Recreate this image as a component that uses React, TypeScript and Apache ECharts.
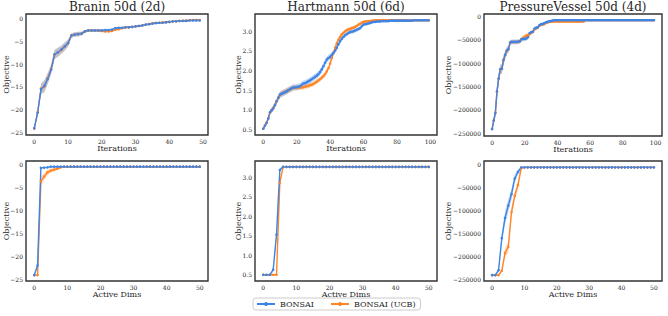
import React, { useEffect, useRef } from "react";
import * as echarts from "echarts";

// ---------------- data ----------------
const SERIES_NAMES = ["BONSAI", "BONSAI (UCB)"];
const TITLES = ["Branin 50d (2d)", "Hartmann 50d (6d)", "PressureVessel 50d (4d)"];
const X_NAMES = ["Iterations", "Active Dims"];
const Y_NAME = "Objective";

// Top row: objective vs iterations
const braninIterBlue = [
  -24.1, -20.7, -15.5, -14.8, -13.2, -11.2, -7.85, -7.4, -6.8, -6.1,
  -5.4, -3.7, -3.5, -3.4, -3.3, -2.8, -2.6, -2.6, -2.6, -2.6,
  -2.6, -2.5, -2.5, -2.4, -2.1, -2.0, -2.0, -1.9, -1.9, -1.8,
  -1.7, -1.6, -1.5, -1.3, -1.2, -1.1, -1.0, -0.9, -0.9, -0.8,
  -0.7, -0.6, -0.6, -0.5, -0.5, -0.5, -0.4, -0.4, -0.4, -0.4,
];
const braninIterBlueStd = [
  0.2, 0.4, 1.2, 1.3, 1.2, 1.1, 1.0, 1.0, 0.9, 0.9,
  0.8, 0.5, 0.5, 0.5, 0.4, 0.3, 0.25, 0.25, 0.25, 0.25,
  0.25, 0.25, 0.25, 0.25, 0.2, 0.2, 0.2, 0.18, 0.18, 0.18,
  0.18, 0.18, 0.18, 0.18, 0.18, 0.15, 0.15, 0.15, 0.15, 0.15,
  0.12, 0.12, 0.12, 0.12, 0.12, 0.12, 0.12, 0.12, 0.12, 0.12,
];
const braninIterOrange = [
  -24.2, -20.6, -15.4, -14.9, -13.1, -11.1, -7.9, -7.4, -6.9, -6.2,
  -5.4, -3.7, -3.5, -3.4, -3.3, -2.8, -2.6, -2.6, -2.6, -2.6,
  -2.7, -2.8, -2.8, -2.7, -2.4, -2.3, -2.1, -1.9, -1.9, -1.8,
  -1.7, -1.6, -1.5, -1.3, -1.2, -1.0, -0.9, -0.9, -0.8, -0.8,
  -0.7, -0.6, -0.55, -0.5, -0.45, -0.4, -0.35, -0.3, -0.3, -0.3,
];
const braninIterOrangeStd = [
  0.2, 0.4, 1.2, 1.3, 1.2, 1.1, 1.0, 1.0, 0.9, 0.9,
  0.8, 0.5, 0.5, 0.5, 0.4, 0.3, 0.25, 0.25, 0.25, 0.25,
  0.3, 0.3, 0.3, 0.3, 0.3, 0.25, 0.2, 0.18, 0.18, 0.18,
  0.18, 0.18, 0.18, 0.18, 0.18, 0.15, 0.15, 0.15, 0.15, 0.15,
  0.12, 0.12, 0.12, 0.12, 0.12, 0.12, 0.12, 0.12, 0.12, 0.12,
];

const hartIterBlue = [
  0.52, 0.6, 0.67, 0.78, 0.94, 0.99, 1.04, 1.12, 1.22, 1.31,
  1.39, 1.41, 1.43, 1.45, 1.47, 1.5, 1.53, 1.55, 1.57, 1.57,
  1.58, 1.59, 1.6, 1.64, 1.67, 1.68, 1.7, 1.73, 1.75, 1.78,
  1.81, 1.84, 1.87, 1.91, 1.96, 2.03, 2.11, 2.2, 2.28, 2.32,
  2.35, 2.4, 2.45, 2.51, 2.58, 2.67, 2.75, 2.81, 2.86, 2.9,
  2.93, 2.96, 2.98, 2.99, 3.0, 3.02, 3.04, 3.06, 3.08, 3.13,
  3.17, 3.18, 3.19, 3.2, 3.21, 3.23, 3.24, 3.24, 3.25, 3.25,
  3.25, 3.26, 3.26, 3.26, 3.26, 3.26, 3.27, 3.27, 3.27, 3.27,
  3.27, 3.27, 3.27, 3.27, 3.27, 3.27, 3.27, 3.27, 3.27, 3.27,
  3.28, 3.28, 3.28, 3.28, 3.28, 3.28, 3.28, 3.28, 3.28, 3.28,
];
const hartIterBlueStd = [
  0.02, 0.04, 0.04, 0.05, 0.06, 0.07, 0.07, 0.07, 0.07, 0.08,
  0.08, 0.08, 0.08, 0.08, 0.08, 0.08, 0.08, 0.08, 0.08, 0.08,
  0.08, 0.08, 0.08, 0.08, 0.08, 0.08, 0.08, 0.08, 0.08, 0.08,
  0.08, 0.08, 0.08, 0.08, 0.08, 0.08, 0.08, 0.08, 0.08, 0.08,
  0.08, 0.08, 0.07, 0.07, 0.07, 0.06, 0.06, 0.06, 0.06, 0.06,
  0.05, 0.05, 0.05, 0.05, 0.05, 0.05, 0.05, 0.05, 0.05, 0.04,
  0.04, 0.04, 0.04, 0.03, 0.03, 0.03, 0.03, 0.02, 0.02, 0.02,
  0.02, 0.02, 0.02, 0.02, 0.02, 0.02, 0.02, 0.02, 0.02, 0.02,
  0.02, 0.02, 0.02, 0.02, 0.02, 0.02, 0.02, 0.02, 0.02, 0.02,
  0.02, 0.02, 0.02, 0.02, 0.02, 0.02, 0.02, 0.02, 0.02, 0.02,
];
const hartIterOrange = [
  0.52, 0.61, 0.68, 0.79, 0.93, 0.99, 1.05, 1.13, 1.22, 1.3,
  1.38, 1.41, 1.43, 1.46, 1.48, 1.5, 1.52, 1.54, 1.56, 1.57,
  1.57, 1.57, 1.57, 1.57, 1.58, 1.59, 1.6, 1.61, 1.63, 1.64,
  1.66, 1.69, 1.72, 1.75, 1.78, 1.82, 1.86, 1.91, 1.98, 2.06,
  2.18, 2.32, 2.45, 2.58, 2.7, 2.79, 2.86, 2.92, 2.96, 3.0,
  3.03, 3.05, 3.06, 3.08, 3.09, 3.11, 3.14, 3.17, 3.19, 3.22,
  3.24, 3.25, 3.25, 3.26, 3.26, 3.27, 3.27, 3.28, 3.28, 3.28,
  3.28, 3.28, 3.28, 3.28, 3.28, 3.28, 3.28, 3.28, 3.28, 3.28,
  3.28, 3.28, 3.28, 3.28, 3.28, 3.28, 3.28, 3.28, 3.28, 3.28,
  3.28, 3.28, 3.28, 3.28, 3.28, 3.28, 3.28, 3.28, 3.28, 3.28,
];
const hartIterOrangeStd = [
  0.02, 0.04, 0.04, 0.05, 0.06, 0.07, 0.07, 0.07, 0.07, 0.08,
  0.08, 0.08, 0.08, 0.08, 0.08, 0.08, 0.08, 0.08, 0.07, 0.07,
  0.07, 0.07, 0.06, 0.06, 0.06, 0.06, 0.06, 0.06, 0.06, 0.06,
  0.06, 0.06, 0.06, 0.06, 0.06, 0.06, 0.06, 0.06, 0.06, 0.06,
  0.06, 0.06, 0.06, 0.06, 0.06, 0.06, 0.05, 0.05, 0.05, 0.05,
  0.05, 0.05, 0.05, 0.05, 0.05, 0.04, 0.04, 0.04, 0.04, 0.04,
  0.03, 0.03, 0.03, 0.03, 0.02, 0.02, 0.02, 0.02, 0.02, 0.02,
  0.02, 0.02, 0.02, 0.02, 0.02, 0.02, 0.02, 0.02, 0.02, 0.02,
  0.02, 0.02, 0.02, 0.02, 0.02, 0.02, 0.02, 0.02, 0.02, 0.02,
  0.02, 0.02, 0.02, 0.02, 0.02, 0.02, 0.02, 0.02, 0.02, 0.02,
];

const pvIterBlue = [
  -241400, -222900, -207000, -160700, -132900, -113000, -112000, -92900, -82100, -72900,
  -70000, -55700, -54300, -54300, -54300, -54300, -54000, -52900, -48600, -47900,
  -47900, -47000, -44300, -35700, -33600, -32100, -25700, -24300, -22900, -18600,
  -16400, -15700, -14300, -12100, -11400, -10000, -9300, -8600, -7900, -7900,
  -7900, -7900, -7900, -7900, -7900, -7900, -7900, -7900, -7900, -7900,
  -7900, -7900, -7900, -7900, -7900, -7900, -7900, -7900, -7900, -7900,
  -7900, -7900, -7900, -7900, -7900, -7900, -7900, -7900, -7900, -7900,
  -7900, -7900, -7900, -7900, -7900, -7900, -7900, -7900, -7900, -7900,
  -7900, -7900, -7900, -7900, -7900, -7900, -7900, -7900, -7900, -7900,
  -7900, -7900, -7900, -7900, -7900, -7900, -7900, -7900, -7900, -7900,
];
const pvIterBlueStd = [
  3000, 6000, 9000, 11000, 11000, 10000, 10000, 10000, 9000, 8000,
  7000, 5000, 5000, 5000, 5000, 5000, 5000, 5000, 5000, 5000,
  5000, 5000, 5000, 4000, 4000, 4000, 4000, 4000, 3500, 3500,
  3500, 3000, 3000, 3000, 3000, 2000, 2000, 1500, 1500, 1500,
  1500, 1500, 1500, 1500, 1500, 1500, 1500, 1500, 1500, 1500,
  1200, 1200, 1200, 1200, 1200, 1200, 1200, 1200, 1200, 1200,
  1200, 1200, 1200, 1200, 1200, 1200, 1200, 1200, 1200, 1200,
  1200, 1200, 1200, 1200, 1200, 1200, 1200, 1200, 1200, 1200,
  1200, 1200, 1200, 1200, 1200, 1200, 1200, 1200, 1200, 1200,
  1200, 1200, 1200, 1200, 1200, 1200, 1200, 1200, 1200, 1200,
];
const pvIterOrange = [
  -241400, -223500, -206000, -161500, -133500, -114000, -112500, -93500, -82500, -73500,
  -70500, -56000, -54500, -54500, -54500, -54500, -54000, -53000, -49000, -46000,
  -43000, -41000, -40000, -37000, -34500, -33000, -27000, -25000, -23500, -19500,
  -17500, -17000, -16000, -13500, -12500, -11500, -11000, -10700, -10700, -10700,
  -10700, -10700, -10700, -10700, -10700, -10700, -10700, -10700, -10700, -10700,
  -10700, -10700, -10700, -10700, -10700, -10700, -10700, -7900, -7900, -7900,
  -7900, -7900, -7900, -7900, -7900, -7900, -7900, -7900, -7900, -7900,
  -7900, -7900, -7900, -7900, -7900, -7900, -7900, -7900, -7900, -7900,
  -7900, -7900, -7900, -7900, -7900, -7900, -7900, -7900, -7900, -7900,
  -7900, -7900, -7900, -7900, -7900, -7900, -7900, -7900, -7900, -7900,
];
const pvIterOrangeStd = [
  3000, 6000, 9000, 11000, 11000, 10000, 10000, 10000, 9000, 8000,
  7000, 5000, 5000, 5000, 5000, 5000, 5000, 5000, 5000, 5000,
  5000, 5000, 5000, 4000, 4000, 4000, 4000, 4000, 3500, 3500,
  3500, 3000, 3000, 2500, 2500, 2000, 1500, 1500, 1500, 1500,
  1500, 1500, 1500, 1500, 1500, 1500, 1500, 1500, 1500, 1500,
  1200, 1200, 1200, 1200, 1200, 1200, 1200, 1200, 1200, 1200,
  1200, 1200, 1200, 1200, 1200, 1200, 1200, 1200, 1200, 1200,
  1200, 1200, 1200, 1200, 1200, 1200, 1200, 1200, 1200, 1200,
  1200, 1200, 1200, 1200, 1200, 1200, 1200, 1200, 1200, 1200,
  1200, 1200, 1200, 1200, 1200, 1200, 1200, 1200, 1200, 1200,
];

// Bottom row: objective vs active dims (0..50)
const braninDimBlue = [
  -24.1, -22.0, -0.7, -0.65, -0.6, -0.45, -0.45, -0.45, -0.45, -0.45,
  -0.45, -0.45, -0.45, -0.45, -0.45, -0.45, -0.45, -0.45, -0.45, -0.45,
  -0.45, -0.45, -0.45, -0.45, -0.45, -0.45, -0.45, -0.45, -0.45, -0.45,
  -0.45, -0.45, -0.45, -0.45, -0.45, -0.45, -0.45, -0.45, -0.45, -0.45,
  -0.45, -0.45, -0.45, -0.45, -0.45, -0.45, -0.45, -0.45, -0.45, -0.45,
  -0.45,
];
const braninDimBlueStd = [
  0.1, 0.3, 0.2, 0.15, 0.1, 0.05, 0.05, 0.05, 0.05, 0.05,
  0.05, 0.05, 0.05, 0.05, 0.05, 0.05, 0.05, 0.05, 0.05, 0.05,
  0.05, 0.05, 0.05, 0.05, 0.05, 0.05, 0.05, 0.05, 0.05, 0.05,
  0.05, 0.05, 0.05, 0.05, 0.05, 0.05, 0.05, 0.05, 0.05, 0.05,
  0.05, 0.05, 0.05, 0.05, 0.05, 0.05, 0.05, 0.05, 0.05, 0.05,
  0.05,
];
const braninDimOrange = [
  -24.1, -24.1, -3.6, -2.6, -1.7, -1.3, -1.1, -0.9, -0.6, -0.45,
  -0.45, -0.45, -0.45, -0.45, -0.45, -0.45, -0.45, -0.45, -0.45, -0.45,
  -0.45, -0.45, -0.45, -0.45, -0.45, -0.45, -0.45, -0.45, -0.45, -0.45,
  -0.45, -0.45, -0.45, -0.45, -0.45, -0.45, -0.45, -0.45, -0.45, -0.45,
  -0.45, -0.45, -0.45, -0.45, -0.45, -0.45, -0.45, -0.45, -0.45, -0.45,
  -0.45,
];
const braninDimOrangeStd = [
  0.1, 0.1, 1.0, 0.8, 0.6, 0.5, 0.4, 0.3, 0.15, 0.05,
  0.05, 0.05, 0.05, 0.05, 0.05, 0.05, 0.05, 0.05, 0.05, 0.05,
  0.05, 0.05, 0.05, 0.05, 0.05, 0.05, 0.05, 0.05, 0.05, 0.05,
  0.05, 0.05, 0.05, 0.05, 0.05, 0.05, 0.05, 0.05, 0.05, 0.05,
  0.05, 0.05, 0.05, 0.05, 0.05, 0.05, 0.05, 0.05, 0.05, 0.05,
  0.05,
];

const hartDimBlue = [
  0.5, 0.5, 0.5, 0.63, 1.53, 3.19, 3.27, 3.27, 3.27, 3.27,
  3.27, 3.27, 3.27, 3.27, 3.27, 3.27, 3.27, 3.27, 3.27, 3.27,
  3.27, 3.27, 3.27, 3.27, 3.27, 3.27, 3.27, 3.27, 3.27, 3.27,
  3.27, 3.27, 3.27, 3.27, 3.27, 3.27, 3.27, 3.27, 3.27, 3.27,
  3.27, 3.27, 3.27, 3.27, 3.27, 3.27, 3.27, 3.27, 3.27, 3.27,
  3.27,
];
const hartDimBlueStd = [
  0.01, 0.01, 0.01, 0.05, 0.1, 0.05, 0.01, 0.01, 0.01, 0.01,
  0.01, 0.01, 0.01, 0.01, 0.01, 0.01, 0.01, 0.01, 0.01, 0.01,
  0.01, 0.01, 0.01, 0.01, 0.01, 0.01, 0.01, 0.01, 0.01, 0.01,
  0.01, 0.01, 0.01, 0.01, 0.01, 0.01, 0.01, 0.01, 0.01, 0.01,
  0.01, 0.01, 0.01, 0.01, 0.01, 0.01, 0.01, 0.01, 0.01, 0.01,
  0.01,
];
const hartDimOrange = [
  0.5, 0.5, 0.5, 0.5, 0.5, 2.86, 3.27, 3.27, 3.27, 3.27,
  3.27, 3.27, 3.27, 3.27, 3.27, 3.27, 3.27, 3.27, 3.27, 3.27,
  3.27, 3.27, 3.27, 3.27, 3.27, 3.27, 3.27, 3.27, 3.27, 3.27,
  3.27, 3.27, 3.27, 3.27, 3.27, 3.27, 3.27, 3.27, 3.27, 3.27,
  3.27, 3.27, 3.27, 3.27, 3.27, 3.27, 3.27, 3.27, 3.27, 3.27,
  3.27,
];
const hartDimOrangeStd = [
  0.01, 0.01, 0.01, 0.01, 0.02, 0.1, 0.01, 0.01, 0.01, 0.01,
  0.01, 0.01, 0.01, 0.01, 0.01, 0.01, 0.01, 0.01, 0.01, 0.01,
  0.01, 0.01, 0.01, 0.01, 0.01, 0.01, 0.01, 0.01, 0.01, 0.01,
  0.01, 0.01, 0.01, 0.01, 0.01, 0.01, 0.01, 0.01, 0.01, 0.01,
  0.01, 0.01, 0.01, 0.01, 0.01, 0.01, 0.01, 0.01, 0.01, 0.01,
  0.01,
];

const pvDimBlue = [
  -241400, -241400, -230700, -160700, -116400, -89300, -64300, -30000, -15700, -5700,
  -5700, -5700, -5700, -5700, -5700, -5700, -5700, -5700, -5700, -5700,
  -5700, -5700, -5700, -5700, -5700, -5700, -5700, -5700, -5700, -5700,
  -5700, -5700, -5700, -5700, -5700, -5700, -5700, -5700, -5700, -5700,
  -5700, -5700, -5700, -5700, -5700, -5700, -5700, -5700, -5700, -5700,
  -5700,
];
const pvDimBlueStd = [
  1000, 1000, 4000, 10000, 15000, 15000, 12000, 10000, 6000, 2000,
  500, 500, 500, 500, 500, 500, 500, 500, 500, 500,
  500, 500, 500, 500, 500, 500, 500, 500, 500, 500,
  500, 500, 500, 500, 500, 500, 500, 500, 500, 500,
  500, 500, 500, 500, 500, 500, 500, 500, 500, 500,
  500,
];
const pvDimOrange = [
  -241400, -241400, -241400, -232000, -192900, -180000, -103600, -67900, -44300, -7100,
  -5700, -5700, -5700, -5700, -5700, -5700, -5700, -5700, -5700, -5700,
  -5700, -5700, -5700, -5700, -5700, -5700, -5700, -5700, -5700, -5700,
  -5700, -5700, -5700, -5700, -5700, -5700, -5700, -5700, -5700, -5700,
  -5700, -5700, -5700, -5700, -5700, -5700, -5700, -5700, -5700, -5700,
  -5700,
];
const pvDimOrangeStd = [
  1000, 1000, 1000, 4000, 10000, 12000, 12000, 10000, 8000, 3000,
  500, 500, 500, 500, 500, 500, 500, 500, 500, 500,
  500, 500, 500, 500, 500, 500, 500, 500, 500, 500,
  500, 500, 500, 500, 500, 500, 500, 500, 500, 500,
  500, 500, 500, 500, 500, 500, 500, 500, 500, 500,
  500,
];

// ---------------- layout / style ----------------
const FONT = "DejaVu Serif";
const TEXT = "#262626";
const BLUE = "#3d84e6";
const ORANGE = "#ff8526";

type PanelData = {
  blue: number[]; blueStd: number[]; orange: number[]; orangeStd: number[];
  title?: string; xName: string; decimals: number;
};

const PANELS: PanelData[] = [
  { blue: braninIterBlue, blueStd: braninIterBlueStd, orange: braninIterOrange, orangeStd: braninIterOrangeStd, title: TITLES[0], xName: X_NAMES[0], decimals: 0 },
  { blue: hartIterBlue, blueStd: hartIterBlueStd, orange: hartIterOrange, orangeStd: hartIterOrangeStd, title: TITLES[1], xName: X_NAMES[0], decimals: 1 },
  { blue: pvIterBlue, blueStd: pvIterBlueStd, orange: pvIterOrange, orangeStd: pvIterOrangeStd, title: TITLES[2], xName: X_NAMES[0], decimals: 0 },
  { blue: braninDimBlue, blueStd: braninDimBlueStd, orange: braninDimOrange, orangeStd: braninDimOrangeStd, xName: X_NAMES[1], decimals: 0 },
  { blue: hartDimBlue, blueStd: hartDimBlueStd, orange: hartDimOrange, orangeStd: hartDimOrangeStd, xName: X_NAMES[1], decimals: 1 },
  { blue: pvDimBlue, blueStd: pvDimBlueStd, orange: pvDimOrange, orangeStd: pvDimOrangeStd, xName: X_NAMES[1], decimals: 0 },
];

const LAYOUT = [
  { left: 26, top: 14, width: 182, height: 121, yGap: 16 },
  { left: 255, top: 14, width: 182, height: 121, yGap: 13 },
  { left: 484, top: 14, width: 178, height: 122, yGap: 32 },
  { left: 26, top: 161, width: 182, height: 120, yGap: 16 },
  { left: 255, top: 161, width: 182, height: 120, yGap: 13 },
  { left: 484, top: 161, width: 178, height: 120, yGap: 32 },
];

function fmt(v: number, decimals: number): string {
  const s = Math.abs(v).toFixed(decimals);
  if (Number(s) === 0) return (0).toFixed(decimals);
  return v < 0 ? "\u2212" + s : s;
}

function buildOption() {
  const grid: any[] = [];
  const xAxis: any[] = [];
  const yAxis: any[] = [];
  const series: any[] = [];
  const title: any[] = [];

  PANELS.forEach((p, i) => {
    const L = LAYOUT[i];
    const n = p.blue.length;
    const xs = p.blue.map((_, k) => k);
    const lows: number[] = [];
    const highs: number[] = [];
    p.blue.forEach((v, k) => { lows.push(v - p.blueStd[k]); highs.push(v + p.blueStd[k]); });
    p.orange.forEach((v, k) => { lows.push(v - p.orangeStd[k]); highs.push(v + p.orangeStd[k]); });
    const lo = Math.min(...lows);
    const hi = Math.max(...highs);
    const span = hi - lo;

    grid.push({
      left: L.left, top: L.top, width: L.width, height: L.height,
      show: true, borderColor: "#333", borderWidth: 1.4, backgroundColor: "#fff",
      containLabel: false, outerBoundsMode: "none",
    });
    const labelCommon = {
      fontFamily: FONT, fontSize: 6, color: TEXT,
      showMinLabel: false, showMaxLabel: false,
    };
    xAxis.push({
      type: "value", gridIndex: i,
      min: -0.05 * (n - 1), max: 1.05 * (n - 1), splitNumber: 5,
      axisLine: { show: false }, axisTick: { show: false }, splitLine: { show: false },
      axisLabel: { ...labelCommon, margin: 3, formatter: (v: number) => fmt(v, 0) },
      name: p.xName, nameLocation: "middle", nameGap: 9, nameMoveOverlap: false,
      nameTextStyle: { fontFamily: FONT, fontSize: 8, color: TEXT },
    });
    yAxis.push({
      type: "value", gridIndex: i,
      min: lo - 0.05 * span, max: hi + 0.05 * span, splitNumber: 5,
      axisLine: { show: false }, axisTick: { show: false }, splitLine: { show: false },
      axisLabel: { ...labelCommon, margin: 3, formatter: (v: number) => fmt(v, p.decimals) },
      name: Y_NAME, nameLocation: "middle", nameGap: L.yGap, nameMoveOverlap: false,
      nameTextStyle: { fontFamily: FONT, fontSize: 8, color: TEXT },
    });

    const band = (vals: number[], std: number[], color: string) => ({
      type: "custom", xAxisIndex: i, yAxisIndex: i, silent: true,
      data: [[xs[0], vals[0]]],
      encode: { x: 0, y: 1 },
      renderItem: (_params: any, api: any) => {
        const pts: number[][] = [];
        for (let k = 0; k < vals.length; k++) pts.push(api.coord([xs[k], vals[k] + std[k]]));
        for (let k = vals.length - 1; k >= 0; k--) pts.push(api.coord([xs[k], vals[k] - std[k]]));
        return { type: "polygon", shape: { points: pts }, style: { fill: color, opacity: 0.3 } };
      },
      z: 1,
    });
    series.push(band(p.orange, p.orangeStd, ORANGE));
    series.push(band(p.blue, p.blueStd, BLUE));

    const line = (name: string, vals: number[], color: string) => ({
      type: "line", name, xAxisIndex: i, yAxisIndex: i,
      data: vals.map((v, k) => [xs[k], v]),
      color,
      symbol: "circle", symbolSize: 2.6, showSymbol: true,
      lineStyle: { width: 1.4, color },
      itemStyle: { color },
      z: 3,
    });
    series.push(line(SERIES_NAMES[1], p.orange, ORANGE));
    series.push(line(SERIES_NAMES[0], p.blue, BLUE));

    if (p.title) {
      title.push({
        text: p.title, left: L.left + L.width / 2, top: 1, textAlign: "center", padding: 0,
        textStyle: { fontFamily: FONT, fontSize: 12, fontWeight: "normal", color: TEXT },
      });
    }
  });

  return {
    animation: false,
    backgroundColor: "#fff",
    title,
    grid, xAxis, yAxis, series,
    legend: {
      data: SERIES_NAMES,
      left: 253, top: 298,
      orient: "horizontal",
      itemWidth: 18, itemHeight: 5, itemGap: 16,
      padding: [2, 5, 2, 3],
      borderColor: "#cccccc", borderWidth: 1, borderRadius: 3,
      textStyle: { fontFamily: FONT, fontSize: 8, color: TEXT },
      selectedMode: false,
    },
  };
}

export default function App() {
  const ref = useRef<HTMLDivElement>(null);
  useEffect(() => {
    if (!ref.current) return;
    const chart = echarts.init(ref.current, undefined, { renderer: "svg" });
    chart.setOption(buildOption() as any);
    return () => chart.dispose();
  }, []);
  return (
    <div
      ref={ref}
      style={{ position: "absolute", left: 0, top: 0, width: 668, height: 316, background: "#fff" }}
    />
  );
}
